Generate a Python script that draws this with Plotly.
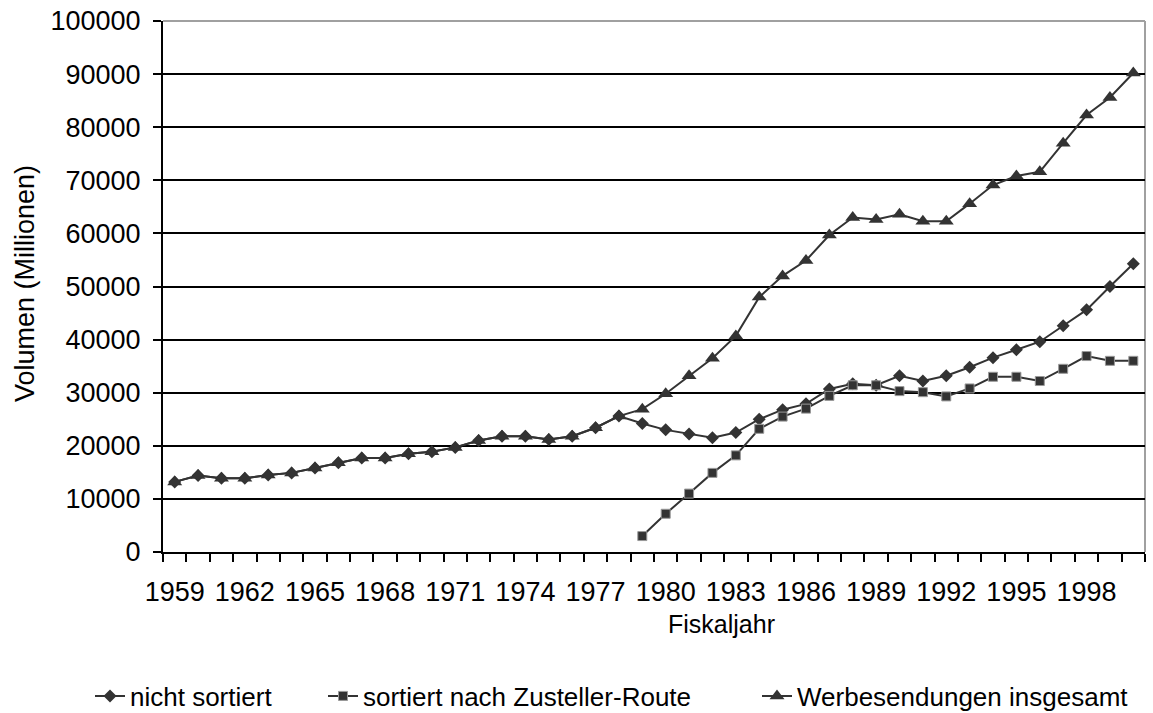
import plotly.graph_objects as go

years = list(range(1959, 2001))

total = [13200, 14400, 13900, 13900, 14500, 14900, 15800, 16800, 17700, 17700,
         18500, 18900, 19700, 21000, 21800, 21800, 21200, 21800, 23400, 25600,
         26900, 29800, 33200, 36500, 40700, 48000, 52000, 54900, 59700, 63000,
         62600, 63600, 62300, 62300, 65600, 69100, 70800, 71600, 77000, 82300,
         85600, 90200]

nicht_sortiert = [13200, 14400, 13900, 13900, 14500, 14900, 15800, 16800, 17700, 17700,
                  18500, 18900, 19700, 21000, 21800, 21800, 21200, 21800, 23400, 25600,
                  24200, 23000, 22200, 21500, 22500, 25000, 26800, 27900, 30700, 31700,
                  31400, 33200, 32200, 33200, 34800, 36600, 38100, 39600, 42600, 45600,
                  50000, 54300]

sortiert = [None] * 20 + [3000, 7200, 11000, 14900, 18200, 23200, 25500, 27000, 29400, 31400,
                          31400, 30300, 30100, 29300, 30800, 33000, 33000, 32200, 34500, 36900,
                          36000, 36000]

label_years = list(range(1959, 2000, 3))
names = ["nicht sortiert", "sortiert nach Zusteller-Route", "Werbesendungen insgesamt"]
x_title = "Fiskaljahr"
y_title = "Volumen (Millionen)"

FONT = "Arial, Liberation Sans, sans-serif"
DARK = "#333333"

fig = go.Figure()
fig.add_trace(go.Scatter(x=years, y=nicht_sortiert, name=names[0], mode="lines+markers",
                         legend="legend",
                         line=dict(color=DARK, width=2),
                         marker=dict(symbol="diamond", size=10, color=DARK)))
fig.add_trace(go.Scatter(x=years, y=sortiert, name=names[1], mode="lines+markers",
                         legend="legend2",
                         line=dict(color=DARK, width=2),
                         marker=dict(symbol="square", size=9, color=DARK,
                                     line=dict(color="#999999", width=1))))
fig.add_trace(go.Scatter(x=years, y=total, name=names[2], mode="lines+markers",
                         legend="legend3",
                         line=dict(color=DARK, width=2),
                         marker=dict(symbol="triangle-up", size=13, color=DARK)))

# invisible trace for label axis
fig.add_trace(go.Scatter(x=[1959], y=[0], xaxis="x2", showlegend=False,
                         mode="markers", marker=dict(opacity=0), hoverinfo="skip"))

half_ticks = [y - 0.5 for y in years] + [years[-1] + 0.5]

W, H = 1153, 713
L, R, T, B = 163, 8, 21, 161
pw = W - L - R
ph = H - T - B

def px_x(p):
    return (p - L) / pw

def px_y(p):
    return (H - B - p) / ph

leg_common = dict(orientation="h", xanchor="left", yanchor="middle",
                  font=dict(size=26, family=FONT, color="black"), itemwidth=30,
                  bgcolor="rgba(0,0,0,0)", borderwidth=0)

fig.update_layout(
    width=W, height=H,
    margin=dict(l=L, r=R, t=T, b=B, autoexpand=False),
    paper_bgcolor="white", plot_bgcolor="white",
    font=dict(family=FONT, size=27, color="black"),
    showlegend=True,
    legend=dict(x=px_x(90), y=px_y(696), **leg_common),
    legend2=dict(x=px_x(323), y=px_y(696), **leg_common),
    legend3=dict(x=px_x(757), y=px_y(696), **leg_common),
    xaxis=dict(range=[1958.5, 2000.5], tickmode="array", tickvals=half_ticks,
               ticktext=[""] * len(half_ticks), ticks="outside", ticklen=8,
               tickcolor="black", tickwidth=2, showline=True, linecolor="black",
               linewidth=2, showgrid=False, zeroline=False, automargin=False),
    xaxis2=dict(range=[1958.5, 2000.5], overlaying="x", anchor="y", side="bottom",
                tickmode="array", tickvals=label_years,
                ticktext=[str(v) for v in label_years], ticks="outside", ticklen=16,
                tickcolor="rgba(0,0,0,0)", showline=False, showgrid=False,
                zeroline=False, tickfont=dict(size=27), automargin=False),
    yaxis=dict(range=[0, 100000], dtick=10000, tickformat="d", ticks="outside", ticklen=8,
               tickcolor="black", tickwidth=2, showline=True, linecolor="black",
               linewidth=2, showgrid=True, gridcolor="black", gridwidth=1.5,
               zeroline=False, ticklabelstandoff=7, tickfont=dict(size=27),
               automargin=False),
)

fig.add_annotation(text=x_title, xref="paper", yref="paper", x=px_x(721), y=px_y(624),
                   xanchor="center", yanchor="middle", showarrow=False,
                   font=dict(size=25, family=FONT, color="black"))
fig.add_annotation(text=y_title, xref="paper", yref="paper", x=px_x(25), y=px_y(284),
                   xanchor="center", yanchor="middle", showarrow=False, textangle=-90,
                   font=dict(size=27, family=FONT, color="black"))

# gray frame top & right
fig.add_shape(type="line", xref="paper", yref="paper", x0=0, x1=1, y0=1, y1=1,
              line=dict(color="#a0a0a0", width=2), layer="below")
fig.add_shape(type="line", xref="paper", yref="paper", x0=1, x1=1, y0=0, y1=1,
              line=dict(color="#a0a0a0", width=2), layer="below")

fig.write_html("out.html",
               config={"displayModeBar": False},
               post_script="document.body.style.margin='0';"
                           "document.body.style.overflow='hidden';")
